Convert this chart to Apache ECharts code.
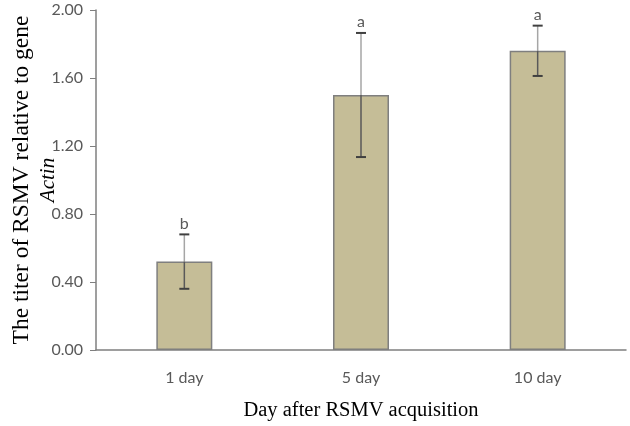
<!DOCTYPE html>
<html><head><meta charset="utf-8">
<script src="https://cdn.jsdelivr.net/npm/echarts@6/dist/echarts.min.js"></script>
<style>html,body{margin:0;padding:0;background:#fff}#c{width:630px;height:426px}</style>
</head><body><div id="c"></div>
<script>
var categories = ['1 day', '5 day', '10 day'];
var values = [0.52, 1.50, 1.76];
var errors = [0.16, 0.365, 0.148];
var letters = ['b', 'a', 'a'];
var yTicks = [0, 0.4, 0.8, 1.2, 1.6, 2.0];

var chart = echarts.init(document.getElementById('c'));
var errData = values.map(function (v, i) { return [i, v, errors[i], letters[i]]; });

chart.setOption({
  animation: false,
  grid: { left: 96, right: 4, top: 10, bottom: 76, containLabel: false, outerBoundsMode: 'none' },
  xAxis: {
    type: 'category', data: categories,
    axisLine: { lineStyle: { color: '#7f7f7f', width: 1.5 } },
    axisTick: { show: false },
    axisLabel: { color: '#595959', fontFamily: 'Lato', fontSize: 16, margin: 20 },
    name: 'Day after RSMV acquisition', nameLocation: 'middle', nameGap: 50,
    nameTextStyle: { color: '#000', fontFamily: 'Liberation Serif', fontSize: 20.5 }
  },
  yAxis: {
    type: 'value', min: 0, max: 2, interval: 0.4,
    axisLine: { show: true, lineStyle: { color: '#7f7f7f', width: 1.5 } },
    axisTick: { show: true, length: 6, lineStyle: { color: '#7f7f7f' } },
    splitLine: { show: false },
    axisLabel: { color: '#595959', fontFamily: 'Lato', fontSize: 16, margin: 13,
      formatter: function (v) { return v.toFixed(2); } },
    name: '{a|The titer of RSMV relative to gene}\n{b|Actin}',
    nameLocation: 'middle', nameGap: 35, nameRotate: 90, nameMoveOverlap: false,
    nameTextStyle: {
      rich: {
        a: { fontFamily: 'Liberation Serif', fontSize: 23.5, color: '#000', lineHeight: 26 },
        b: { fontFamily: 'Liberation Serif', fontSize: 21, fontStyle: 'italic', color: '#000', lineHeight: 26 }
      }
    }
  },
  series: [
    {
      type: 'bar', data: values, barWidth: 56,
      itemStyle: { color: '#C5BD97', borderColor: '#7f7f7f', borderWidth: 1.5 }
    },
    {
      type: 'custom', data: errData, z: 10,
      renderItem: function (params, api) {
        var i = api.value(0), v = api.value(1), e = api.value(2);
        var mid = api.coord([i, v]);
        var top = api.coord([i, v + e]);
        var bot = api.coord([i, v - e]);
        var x = mid[0], cw = 5;
        return {
          type: 'group',
          children: [
            { type: 'line', shape: { x1: x, y1: top[1], x2: x, y2: mid[1] }, style: { stroke: '#a6a6a6', lineWidth: 1.5 } },
            { type: 'line', shape: { x1: x, y1: mid[1], x2: x, y2: bot[1] }, style: { stroke: '#595959', lineWidth: 1.5 } },
            { type: 'line', shape: { x1: x - cw, y1: top[1], x2: x + cw, y2: top[1] }, style: { stroke: '#404040', lineWidth: 2 } },
            { type: 'line', shape: { x1: x - cw, y1: bot[1], x2: x + cw, y2: bot[1] }, style: { stroke: '#404040', lineWidth: 2 } },
            { type: 'text', style: { text: letters[params.dataIndex], x: x, y: top[1] - 3,
                align: 'center', verticalAlign: 'bottom', fill: '#595959', font: '16px Lato' } }
          ]
        };
      }
    }
  ]
});
</script></body></html>
